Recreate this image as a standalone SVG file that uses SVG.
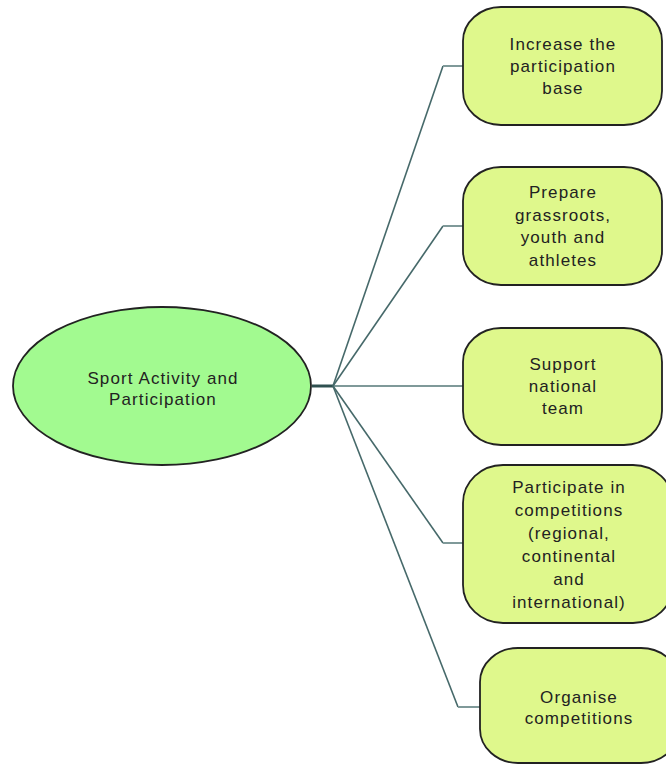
<svg xmlns="http://www.w3.org/2000/svg" width="666" height="765" viewBox="0 0 666 765">
<style>
.box{fill:#dff88c;stroke:#222;stroke-width:1.8}
.root{fill:#a2fa90;stroke:#222;stroke-width:1.8}
.t{font-family:"Liberation Sans",Arial,sans-serif;font-size:17px;letter-spacing:1.1px;fill:#222;text-anchor:middle}
.c{fill:none;stroke:#46696a;stroke-width:1.6}
.s{fill:none;stroke:#7f9999;stroke-width:2}
</style>
<rect width="666" height="765" fill="#fff"/>
<g id="connectors">
<line x1="312" y1="386" x2="333" y2="386" stroke="#2f5050" stroke-width="3"/>
<line class="s" x1="333" y1="386" x2="463" y2="386"/>
<polyline class="c" points="333,386 443,66"/>
<line class="s" x1="443" y1="66" x2="463" y2="66"/>
<polyline class="c" points="333,386 443,226"/>
<line class="s" x1="443" y1="226" x2="463" y2="226"/>
<polyline class="c" points="333,386 443,543"/>
<line class="s" x1="443" y1="543" x2="463" y2="543"/>
<polyline class="c" points="333,386 458,707"/>
<line class="s" x1="458" y1="707" x2="480" y2="707"/>
</g>
<g id="root">
<ellipse class="root" cx="162" cy="386" rx="149" ry="79"/>
<text class="t" x="163" y="384">Sport Activity and</text>
<text class="t" x="163" y="405">Participation</text>
</g>
<g id="n1">
<rect class="box" x="463" y="7" width="199" height="118" rx="38" ry="34"/>
<text class="t" x="563" y="50">Increase the</text>
<text class="t" x="563" y="72">participation</text>
<text class="t" x="563" y="94">base</text>
</g>
<g id="n2">
<rect class="box" x="463" y="167" width="199" height="118" rx="38" ry="34"/>
<text class="t" x="563" y="198">Prepare</text>
<text class="t" x="563" y="221">grassroots,</text>
<text class="t" x="563" y="243">youth and</text>
<text class="t" x="563" y="266">athletes</text>
</g>
<g id="n3">
<rect class="box" x="463" y="328" width="199" height="117" rx="38" ry="34"/>
<text class="t" x="563" y="370">Support</text>
<text class="t" x="563" y="392">national</text>
<text class="t" x="563" y="414">team</text>
</g>
<g id="n4">
<rect class="box" x="463" y="465" width="210" height="158" rx="40" ry="38"/>
<text class="t" x="569" y="493">Participate in</text>
<text class="t" x="569" y="516">competitions</text>
<text class="t" x="569" y="539">(regional,</text>
<text class="t" x="569" y="562">continental</text>
<text class="t" x="569" y="585">and</text>
<text class="t" x="569" y="608">international)</text>
</g>
<g id="n5">
<rect class="box" x="480" y="648" width="199" height="115" rx="38" ry="34"/>
<text class="t" x="579" y="703">Organise</text>
<text class="t" x="579" y="724">competitions</text>
</g>
</svg>
